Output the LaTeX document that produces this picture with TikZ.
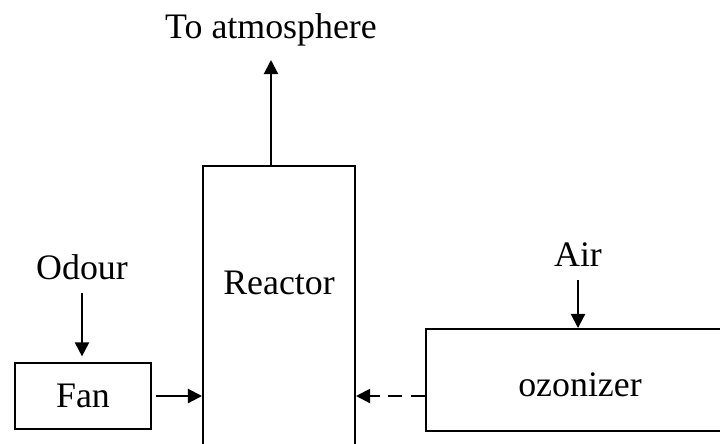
\documentclass[tikz,border=0pt]{standalone}
\usepackage{fontspec}
\setmainfont{Liberation Serif}
\usetikzlibrary{arrows.meta,positioning}

\tikzset{
  unitbox/.style={draw, line width=1.4pt, inner sep=0pt},
  tag/.style={anchor=south, inner sep=9.5pt},
  flow/.style={-{Triangle[length=10pt,width=10pt]}, line width=1.5pt},
}

\begin{document}
\begin{tikzpicture}[x=0.025cm, y=-0.025cm, font=\fontsize{25.5}{30}\selectfont]
  \clip (0,0) rectangle (720,443);
  % boxes
  \node (fan) [unitbox, minimum width=3.4cm, minimum height=1.65cm] at (83,396) {Fan};
  \node (reactor) [unitbox, minimum width=3.8cm, minimum height=8cm, anchor=north] at (279,165) {};
  \node (rtext) at ([yshift=-2.95cm]reactor.north) {Reactor};
  \node (ozon) [unitbox, minimum width=7.7cm, minimum height=2.55cm, text height=24pt] at (580,380) {ozonizer};
  % labels
  \node (odour) [tag] at (82,293) {Odour};
  \node (air) [tag] at (578,280) {Air};
  \node (atm) [tag] at (271,60) {To atmosphere};
  % arrows
  \draw[flow, shorten >=4pt] (odour.south) -- (odour.south |- fan.north);
  \draw[flow, shorten <=3pt] (fan.east) -- (fan.east -| reactor.west);
  \draw[flow, dash pattern=on 10pt off 6pt] (ozon.west |- fan.east) -- (reactor.east |- fan.east);
  \draw[flow] (air.south) -- (air.south |- ozon.north);
  \draw[flow] (atm.south |- reactor.north) -- (atm.south);
\end{tikzpicture}
\end{document}
